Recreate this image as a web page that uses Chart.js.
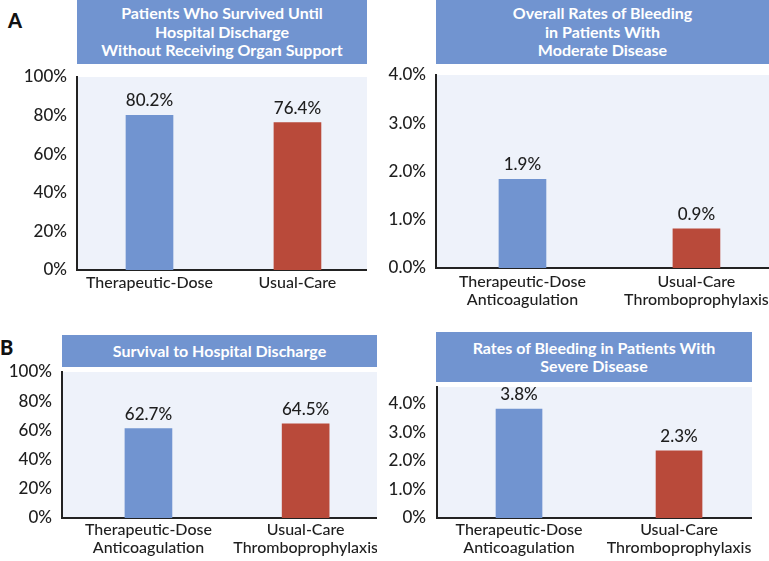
<!DOCTYPE html>
<html><head><meta charset="utf-8">
<script src="https://cdn.jsdelivr.net/npm/chart.js@4.4.1/dist/chart.umd.min.js"></script>
<style>
html,body{margin:0;padding:0;background:#fff;width:769px;height:561px;overflow:hidden;}
canvas{position:absolute;}
.title{position:absolute;background:#7194d0;color:#fff;font-family:Lato,sans-serif;font-weight:700;font-size:16px;line-height:18.5px;text-align:center;display:flex;align-items:center;justify-content:center;}
.letter{position:absolute;font-family:Lato,sans-serif;font-weight:900;font-size:20px;color:#111;line-height:20px;}
</style></head>
<body>
<div class="letter" style="left:8px;top:10px;">A</div>
<div class="letter" style="left:0px;top:337px;">B</div>
<div class="title" id="t1" style="left:77px;top:0px;width:290px;height:64px;"></div>
<div class="title" id="t2" style="left:436px;top:0px;width:333px;height:64px;"></div>
<div class="title" id="t3" style="left:62px;top:335px;width:315px;height:32px;"></div>
<div class="title" id="t4" style="left:436px;top:332px;width:316px;height:50px;"></div>
<canvas id="c1"></canvas>
<canvas id="c2"></canvas>
<canvas id="c3"></canvas>
<canvas id="c4"></canvas>
<script>
// ---- data ----
const categoriesShort = ["Therapeutic-Dose", "Usual-Care"];
const categoriesLong = [["Therapeutic-Dose", "Anticoagulation"], ["Usual-Care", "Thromboprophylaxis"]];
const titles = [
  ["Patients Who Survived Until", "Hospital Discharge", "Without Receiving Organ Support"],
  ["Overall Rates of Bleeding", "in Patients With", "Moderate Disease"],
  ["Survival to Hospital Discharge"],
  ["Rates of Bleeding in Patients With", "Severe Disease"]
];
const survivalModerate = [80.2, 76.4];
const survivalModerateLabels = ["80.2%", "76.4%"];
const bleedingModerate = [1.84, 0.81];
const bleedingModerateLabels = ["1.9%", "0.9%"];
const survivalSevere = [61.2, 64.5];
const survivalSevereLabels = ["62.7%", "64.5%"];
const bleedingSevere = [3.81, 2.35];
const bleedingSevereLabels = ["3.8%", "2.3%"];
const pctTicks = [0, 20, 40, 60, 80, 100];
const pctTickLabels = ["0%", "20%", "40%", "60%", "80%", "100%"];
const bleedTicks = [0, 1, 2, 3, 4];
const bleedTickLabelsModerate = ["0.0%", "1.0%", "2.0%", "3.0%", "4.0%"];
const bleedTickLabelsSevere = ["0%", "1.0%", "2.0%", "3.0%", "4.0%"];
const barColors = ["#7194d0", "#b94a3a"];

titles.forEach((t, i) => { document.getElementById('t' + (i + 1)).innerHTML = t.join('<br>'); });

const FONT = "Lato, sans-serif";

const bgPlugin = {
  id: 'bg',
  beforeDraw(chart) {
    const a = chart.chartArea, ctx = chart.ctx;
    ctx.save(); ctx.fillStyle = '#eef2fa';
    ctx.fillRect(a.left, a.top, a.right - a.left, a.bottom - a.top);
    ctx.restore();
  }
};
const valuePlugin = {
  id: 'vals',
  afterDatasetsDraw(chart) {
    const ctx = chart.ctx, meta = chart.getDatasetMeta(0);
    const labels = chart.options.plugins.vals.labels;
    ctx.save();
    ctx.font = "500 17px " + FONT; ctx.fillStyle = '#1e1e1e';
    ctx.textAlign = 'center'; ctx.textBaseline = 'alphabetic';
    meta.data.forEach((el, i) => ctx.fillText(labels[i], el.x, el.y - 9));
    ctx.restore();
  }
};

function makeChart(id, p) {
  const cv = document.getElementById(id);
  const top = p.area.top - 12;
  const w = p.area.right - p.left;
  const h = p.area.bottom + p.xH - top;
  cv.width = w; cv.height = h;
  cv.style.left = p.left + 'px'; cv.style.top = top + 'px';
  cv.style.width = w + 'px'; cv.style.height = h + 'px';
  return new Chart(cv, {
    type: 'bar',
    data: {
      datasets: [{
        data: p.values.map((v, i) => ({ x: i, y: v })),
        backgroundColor: barColors,
        barThickness: p.barW
      }]
    },
    options: {
      responsive: false, animation: false,
      layout: { padding: { top: 12, left: 0, right: 0, bottom: 0 } },
      plugins: { legend: { display: false }, tooltip: { enabled: false }, vals: { labels: p.valueLabels } },
      scales: {
        x: {
          type: 'linear', min: p.xMin, max: p.xMax, offset: false,
          afterBuildTicks: s => { s.ticks = p.cats.map((_, i) => ({ value: i })); },
          afterFit: s => { s.height = p.xH; s.paddingLeft = 0; s.paddingRight = 0; },
          grid: { display: false, drawTicks: false, offset: false },
          border: { display: true, color: '#222', width: 2 },
          ticks: {
            autoSkip: false, maxRotation: 0, padding: p.xPad, color: '#1e1e1e',
            font: { family: FONT, size: 16, weight: 500, lineHeight: 1.1 },
            callback: v => p.cats[Math.round(v)]
          }
        },
        y: {
          min: 0, max: p.yMax,
          afterBuildTicks: s => { s.ticks = p.yTicks.map(v => ({ value: v })); },
          afterFit: s => { s.width = p.area.left - p.left; s.paddingTop = 0; s.paddingBottom = 0; },
          grid: { display: false, drawTicks: false },
          border: { display: true, color: '#222', width: 2 },
          ticks: {
            padding: p.yPad, color: '#1e1e1e',
            font: { family: FONT, size: 17, weight: 500 },
            callback: v => p.yLabels[p.yTicks.indexOf(v)]
          }
        }
      }
    },
    plugins: [bgPlugin, valuePlugin]
  });
}

makeChart('c1', { left: 0, area: { left: 77, right: 367, top: 77, bottom: 270 }, xH: 40, xPad: 4, yPad: 10,
  xMin: -0.49, xMax: 1.47, yMax: 100, barW: 47, cats: categoriesShort,
  values: survivalModerate, valueLabels: survivalModerateLabels, yTicks: pctTicks, yLabels: pctTickLabels });
makeChart('c2', { left: 384, area: { left: 436, right: 769, top: 75, bottom: 268 }, xH: 45, xPad: 5, yPad: 10,
  xMin: -0.497, xMax: 1.417, yMax: 4, barW: 47, cats: categoriesLong,
  values: bleedingModerate, valueLabels: bleedingModerateLabels, yTicks: bleedTicks, yLabels: bleedTickLabelsModerate });
makeChart('c3', { left: 0, area: { left: 62, right: 377, top: 372, bottom: 518 }, xH: 43, xPad: 3, yPad: 10,
  xMin: -0.55, xMax: 1.454, yMax: 100, barW: 47, cats: categoriesLong,
  values: survivalSevere, valueLabels: survivalSevereLabels, yTicks: pctTicks, yLabels: pctTickLabels });
makeChart('c4', { left: 384, area: { left: 437, right: 752, top: 387, bottom: 518 }, xH: 43, xPad: 3, yPad: 11,
  xMin: -0.5125, xMax: 1.456, yMax: 4.58, barW: 46, cats: categoriesLong,
  values: bleedingSevere, valueLabels: bleedingSevereLabels, yTicks: bleedTicks, yLabels: bleedTickLabelsSevere });
</script>
</body></html>
